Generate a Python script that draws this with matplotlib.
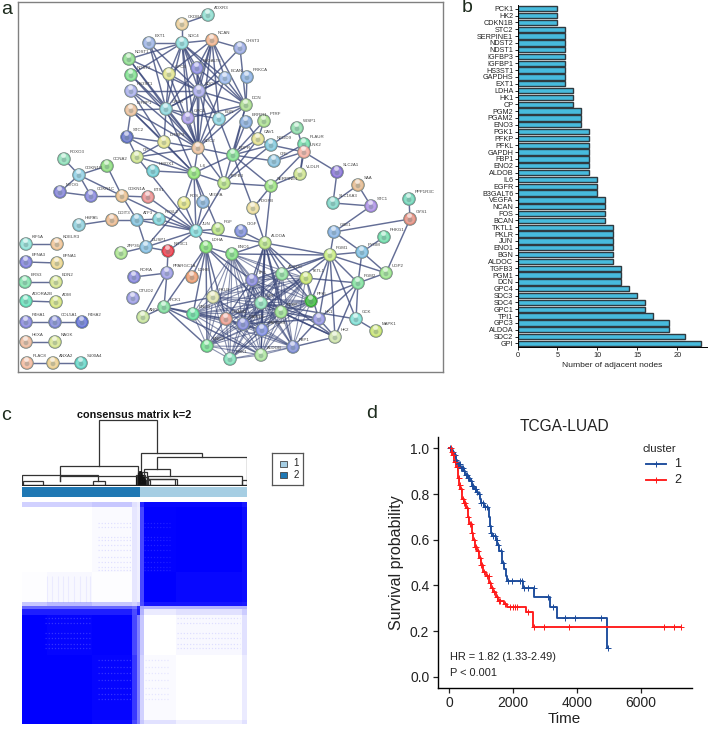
import itertools
import numpy as np
import matplotlib
matplotlib.use('Agg')
import matplotlib.pyplot as plt
from matplotlib.colors import LinearSegmentedColormap
from matplotlib.patches import Rectangle

plt.rcParams['font.family'] = ['Liberation Sans', 'DejaVu Sans']

W, H = 709, 732

# panel a: string network, positions
node_names = ['ADXR3', 'CKDB4', 'EXT1', 'SDC4', 'NCAN', 'CHST3', 'NDST1', 'NDST2', 'HS3ST1', 'GPC4',
              'B3GALT6', 'BCAN', 'PRKCA', 'SDC3', 'IGFBP1', 'GPC3', 'GPC1', 'BGN', 'DCN', 'STC2',
              'IGFBP3', 'SDC2', 'CP', 'HMOX1', 'IL6', 'EGFR', 'TGFB3', 'ERRFI1', 'PTRF', 'CAV1',
              'WISP1', 'NEDD9', 'PLAUR', 'UNK2', 'CRL', 'VLDLR', 'SLC2A1', 'SAA', 'SERPINE1', 'SLC16A3',
              'STC1', 'PPP1R3C', 'GYS1', 'FOXO3', 'CDKN1B', 'CCNA2', 'MYOG', 'CDKN1C', 'CDKN1A', 'ETS1',
              'FOS', 'VEGFA', 'PGF', 'HSPA5', 'DDIT3', 'ATF3', 'FOSL2', 'JUN', 'DUSP1', 'NR3C1',
              'ZFP36', 'LDHA', 'PPARGC1A', 'RORA', 'LDHB', 'OTUD2', 'PCK1', 'ANG', 'PKLR', 'ENO3',
              'PGAM2', 'ENO2', 'PGK1', 'PDGFB', 'CIGF', 'ALDOA', 'ENO1', 'GBE1', 'PGM1', 'PYGM',
              'PHKG1', 'UGP2', 'PGM2', 'ALDOC', 'TKTL1', 'TPI1', 'PFKL', 'GPI', 'PFKP', 'HK1',
              'GCK', 'MAPK1', 'HK2', 'FBP1', 'ALDOB', 'GAPDHS', 'GAPDH',
              'KIF5A', 'KDELR3', 'EFNA3', 'EFNA1', 'BRS3', 'EDN2', 'ADORA2B', 'ADM', 'P4HA1', 'COL5A1',
              'P4HA2', 'HEXA', 'NAGK', 'PLAC8', 'ANXA2', 'S100A4']
node_x = [208, 182, 149, 182, 212, 240, 129, 131, 131, 169,
          197, 225, 247, 199, 131, 166, 188, 219, 246, 127,
          164, 198, 137, 153, 194, 233, 224, 246, 264, 258,
          297, 271, 304, 304, 274, 300, 337, 358, 271, 333,
          371, 409, 410, 64, 79, 107, 60, 91, 122, 148,
          184, 203, 218, 79, 112, 137, 159, 196, 146, 168,
          121, 206, 167, 134, 192, 133, 164, 143, 213, 193,
          226, 207, 230, 253, 241, 265, 232, 334, 330, 362,
          384, 386, 358, 282, 306, 252, 311, 261, 281, 319,
          356, 376, 335, 293, 261, 262, 243,
          26, 57, 26, 57, 25, 56, 26, 56, 26, 55,
          82, 26, 55, 27, 53, 81]
node_y = [15, 24, 43, 43, 40, 48, 59, 75, 91, 74,
          68, 78, 77, 91, 110, 109, 118, 119, 105, 137,
          142, 148, 157, 171, 173, 155, 183, 122, 121, 139,
          128, 145, 144, 152, 161, 174, 172, 185, 186, 203,
          206, 199, 219, 159, 175, 166, 192, 196, 196, 197,
          203, 202, 229, 225, 220, 220, 219, 231, 247, 251,
          253, 247, 273, 277, 277, 298, 307, 317, 297, 314,
          319, 346, 359, 208, 231, 243, 254, 232, 255, 252,
          237, 273, 283, 274, 278, 280, 301, 303, 312, 319,
          319, 331, 337, 347, 355, 330, 324,
          244, 244, 262, 263, 282, 282, 301, 302, 322, 322,
          322, 342, 342, 363, 363, 363]
node_colors = ['#7fd8c8', '#e8c88e', '#8fa8e0', '#7fd8d8', '#eea97f', '#8fa0e0', '#7fd87f', '#6fdc7f', '#9fa5e8', '#dfe07f',
               '#7f7fdd', '#8fb0e8', '#7fa8e0', '#9f9fe8', '#e8b88f', '#7fd0d8', '#a08fe8', '#7fd0e0', '#a0d880', '#5060c0',
               '#e0e080', '#e8b890', '#c8e080', '#60c8d0', '#80e060', '#70dc80', '#b0e070', '#78a0d8', '#a0dc80', '#e0dc80',
               '#80d8a0', '#70c0d8', '#60dca0', '#f0a090', '#78b8d8', '#c8e080', '#7860d0', '#e0b080', '#90e070', '#70d0c0',
               '#a080e0', '#60d0b0', '#e08070', '#80dcb0', '#80c8e0', '#80d870', '#7070d0', '#7878d8', '#e8b880', '#e88080',
               '#e0e070', '#78a8d8', '#b0e070', '#80c8d8', '#e8b080', '#70b8d8', '#70d0d8', '#70d8d8', '#78b8e0', '#e82030',
               '#a0e080', '#70dc60', '#9090e0', '#7878d8', '#e89060', '#9090e0', '#70d890', '#c0e090', '#dce0a0', '#50dc90',
               '#e89080', '#60dc80', '#70dcb0', '#e8d890', '#7080d8', '#b0e070', '#70dc70', '#78a8e0', '#c0e870', '#70b8e0',
               '#60d8a0', '#90e080', '#70dc90', '#80dc90', '#c0e060', '#7878d8', '#20b020', '#80dcb0', '#90dc80', '#8888e0',
               '#70dcd0', '#c0e060', '#c8e0a0', '#7080d0', '#a0e090', '#7080e0', '#7078d0',
               '#80dcd0', '#eebc88', '#7070d8', '#e8d080', '#70dca0', '#d0e080', '#50dcb0', '#d0e070', '#7878d8', '#7078d0',
               '#5060d0', '#e8b090', '#d0e080', '#f0b090', '#e8c880', '#50d0c0']

link_hubs = {
    'SDC2': ['EXT1', 'NDST1', 'NDST2', 'HS3ST1', 'GPC4', 'GPC3', 'GPC1', 'BGN', 'B3GALT6', 'IGFBP1', 'IGFBP3',
             'CP', 'IL6', 'EGFR', 'SDC3', 'BCAN', 'NCAN', 'SDC4', 'DCN', 'TGFB3'],
    'SDC4': ['CKDB4', 'EXT1', 'NDST1', 'NDST2', 'GPC4', 'B3GALT6', 'BGN', 'GPC3', 'GPC1', 'NCAN', 'BCAN', 'DCN', 'SDC3'],
    'GPC3': ['EXT1', 'NDST1', 'NDST2', 'HS3ST1', 'GPC4', 'B3GALT6', 'BGN', 'GPC1', 'SDC3', 'BCAN', 'IGFBP1', 'IGFBP3', 'IL6'],
    'SDC3': ['EXT1', 'NDST1', 'HS3ST1', 'GPC4', 'B3GALT6', 'GPC1', 'NCAN', 'BCAN', 'DCN', 'CHST3', 'BGN', 'TGFB3'],
    'NCAN': ['CHST3', 'B3GALT6', 'GPC1', 'DCN', 'BGN', 'BCAN', 'GPC4'],
    'DCN': ['CHST3', 'PRKCA', 'BCAN', 'GPC1', 'BGN', 'EGFR', 'TGFB3', 'B3GALT6'],
    'EGFR': ['ERRFI1', 'CAV1', 'PTRF', 'NEDD9', 'CRL', 'IL6', 'BGN', 'PDGFB', 'SERPINE1'],
    'IL6': ['HMOX1', 'CP', 'JUN', 'TGFB3', 'FOS', 'VEGFA', 'STC2', 'IGFBP1', 'IGFBP3', 'PGF'],
    'IGFBP3': ['STC2', 'CP', 'IGFBP1', 'HS3ST1'],
    'STC2': ['CP', 'IGFBP1'],
    'JUN': ['FOS', 'FOSL2', 'ATF3', 'VEGFA', 'CDKN1A', 'TGFB3', 'ETS1', 'DUSP1', 'NR3C1', 'LDHA', 'PGF', 'CP', 'ALDOA'],
    'ALDOA': ['PDGFB', 'CIGF', 'ENO1', 'PGM1', 'ALDOC', 'TPI1', 'GPI', 'PFKP', 'ALDOB', 'GAPDHS', 'GAPDH', 'TKTL1', 'PFKL', 'FBP1'],
    'PGM1': ['GBE1', 'PYGM', 'PGM2', 'UGP2', 'HK1', 'GCK', 'HK2', 'ALDOC', 'TPI1', 'GAPDH', 'ENO1', 'PFKL'],
    'PGM2': ['PYGM', 'UGP2', 'HK1', 'GCK', 'HK2', 'PFKL', 'TKTL1'],
    'GBE1': ['GYS1', 'PYGM'],
    'PYGM': ['PHKG1', 'UGP2'],
    'GYS1': ['UGP2', 'PPP1R3C'],
    'HK1': ['TKTL1', 'GPI', 'HK2', 'GAPDH', 'FBP1', 'PFKP'],
    'HK2': ['GPI', 'PFKP', 'FBP1', 'TPI1'],
    'GCK': ['MAPK1', 'GPI'],
    'CDKN1B': ['FOXO3', 'CCNA2', 'MYOG', 'CDKN1C', 'CDKN1A'],
    'CDKN1A': ['CCNA2', 'CDKN1C', 'ATF3', 'ETS1'],
    'CDKN1C': ['MYOG'],
    'DDIT3': ['HSPA5', 'ATF3'],
    'ATF3': ['FOSL2'],
    'PPARGC1A': ['NR3C1', 'RORA', 'PCK1', 'ANG'],
    'DUSP1': ['ZFP36', 'NR3C1', 'FOS', 'ATF3'],
    'LDHA': ['ENO1', 'ENO3', 'PGAM2', 'ENO2', 'PKLR', 'PCK1', 'LDHB', 'GPI', 'TPI1'],
    'PCK1': ['ENO2', 'ENO3', 'PKLR', 'ALDOB', 'PGAM2', 'ANG'],
    'UNK2': ['PLAUR', 'WISP1', 'CRL', 'VLDLR', 'SLC2A1', 'NEDD9', 'SERPINE1'],
    'NEDD9': ['WISP1', 'CAV1', 'TGFB3'],
    'PLAUR': ['VLDLR', 'CRL'],
    'CAV1': ['PTRF', 'TGFB3', 'ERRFI1'],
    'SERPINE1': ['ALDOA', 'TGFB3', 'PDGFB', 'VLDLR'],
    'SLC16A3': ['SLC2A1', 'STC1', 'SAA'],
    'STC1': ['GBE1', 'SAA'],
    'ADXR3': ['CKDB4'],
    'KIF5A': ['KDELR3'], 'EFNA3': ['EFNA1'], 'BRS3': ['EDN2'], 'ADORA2B': ['ADM'],
    'COL5A1': ['P4HA1', 'P4HA2'], 'HEXA': ['NAGK'], 'ANXA2': ['PLAC8', 'S100A4'],
}
glyco_group = ['TPI1', 'GPI', 'GAPDH', 'GAPDHS', 'ALDOB', 'FBP1', 'PFKP', 'PFKL', 'ALDOC', 'TKTL1', 'PKLR',
               'PGK1', 'ENO1', 'ENO2', 'ENO3', 'PGAM2']

# panel b
bar_names = ['PCK1', 'HK2', 'CDKN1B', 'STC2', 'SERPINE1', 'NDST2', 'NDST1', 'IGFBP3', 'IGFBP1', 'HS3ST1',
             'GAPDHS', 'EXT1', 'LDHA', 'HK1', 'CP', 'PGM2', 'PGAM2', 'ENO3', 'PGK1', 'PFKP',
             'PFKL', 'GAPDH', 'FBP1', 'ENO2', 'ALDOB', 'IL6', 'EGFR', 'B3GALT6', 'VEGFA', 'NCAN',
             'FOS', 'BCAN', 'TKTL1', 'PKLR', 'JUN', 'ENO1', 'BGN', 'ALDOC', 'TGFB3', 'PGM1',
             'DCN', 'GPC4', 'SDC3', 'SDC4', 'GPC1', 'TPI1', 'GPC3', 'ALDOA', 'SDC2', 'GPI']
bar_values = [5, 5, 5, 6, 6, 6, 6, 6, 6, 6,
              6, 6, 7, 7, 7, 8, 8, 8, 9, 9,
              9, 9, 9, 9, 9, 10, 10, 10, 11, 11,
              11, 11, 12, 12, 12, 12, 12, 12, 13, 13,
              13, 14, 15, 16, 16, 17, 19, 19, 21, 23]

# panel c: consensus blocks, cells of uneven width
cell_x = [67, 140, 275, 395, 412, 420, 432, 528, 725, 740]
cell_y = [35, 50, 245, 335, 348, 358, 375, 495, 690, 703]
cell_values = [[.18, .18, .22, .12, .08, .85, .97, .97, .90],
               [.00, .00, .02, .10, .07, .72, .99, 1.0, .95],
               [.01, .03, .01, .10, .07, .72, 1.0, .97, .95],
               [.22, .28, .22, .18, .25, .70, .92, .92, .90],
               [.60, .60, .60, .55, .85, .35, .30, .30, .30],
               [.88, .88, .88, .70, .90, .30, .08, .12, .20],
               [1.0, .98, .99, .72, .50, .22, .00, .03, .12],
               [1.0, 1.0, .98, .78, .50, .18, .02, .00, .08],
               [1.0, 1.0, .96, .72, .50, .22, .12, .06, .12]]
lattice_rows = [100, 110, 140, 150, 165, 180, 200, 215, 232, 240]
lattice_rows_low = [385, 400, 430, 445, 462, 475, 510, 530, 550, 570, 595, 612, 628]
lattice_cols = [140, 155, 175, 190, 205, 222, 240, 258, 270]

# merges of the dendrogram: left x, right x, height, left foot, right foot
merge_left = [297, 181, 67, 181, 422, 472, 432, 440, 440, 70, 280, 415, 420, 425, 430, 725, 445, 408, 416, 424]
merge_right = [470, 415, 295, 415, 605, 740, 510, 725, 525, 130, 315, 440, 435, 445, 450, 740, 530, 420, 432, 436]
merge_top = [60, 197, 224, 228, 158, 172, 208, 228, 236, 243, 243, 215, 225, 232, 240, 240, 238, 225, 235, 245]
merge_foot_l = [197, 243, 254, 243, 240, 208, 235, 240, 255, 255, 255, 255, 255, 255, 255, 255, 255, 255, 255, 255]
merge_foot_r = [158, 228, 243, 255, 172, 240, 228, 255, 255, 255, 255, 255, 255, 255, 255, 255, 255, 255, 255, 255]
clump_x = [412, 416, 419, 422, 425, 428, 431, 434, 437]
clump_top = [230, 218, 214, 212, 220, 226, 232, 238, 244]
cluster_split = 420

# panel d: survival curves
time_1 = [0, 100, 150, 200, 250, 350, 450, 500, 580, 650, 700, 760, 850, 900, 950, 1000, 1100, 1200, 1230, 1260,
          1300, 1340, 1450, 1500, 1560, 1650, 1720, 1780, 1820, 2320, 2660, 3150, 3360, 4930, 4980]
surv_1 = [1.0, .985, .97, .95, .93, .915, .90, .885, .87, .855, .835, .82, .81, .80, .78, .76, .745, .74, .70, .66,
          .63, .615, .60, .575, .55, .50, .47, .44, .418, .388, .35, .305, .255, .125, .125]
censor_1 = [30, 120, 170, 220, 270, 300, 330, 380, 410, 440, 470, 520, 550, 600, 620, 670, 720, 740, 800, 830,
            880, 920, 1000, 1050, 1130, 1180, 1280, 1320, 1380, 1420, 1480, 1530, 1620, 1690, 1850, 1950, 2210, 2270,
            2350, 2480, 2640, 3100, 3250, 3630, 3940, 4760, 4980]
time_2 = [0, 60, 100, 150, 200, 270, 300, 350, 400, 450, 530, 580, 630, 700, 750, 800, 870, 920, 980, 1050,
          1150, 1250, 1300, 1370, 1450, 1530, 1700, 1800, 2400, 2610, 7250]
surv_2 = [1.0, .985, .97, .94, .92, .87, .84, .82, .78, .76, .74, .70, .67, .63, .60, .57, .55, .52, .49, .46,
          .44, .41, .39, .37, .35, .33, .32, .307, .285, .219, .219]
censor_2 = [40, 80, 130, 180, 230, 290, 320, 370, 420, 470, 500, 550, 600, 650, 680, 720, 770, 820, 850, 900,
            950, 1000, 1020, 1100, 1180, 1230, 1280, 1340, 1400, 1480, 1550, 1600, 1760, 1900, 2000, 2060, 2120,
            2480, 2650, 2970, 3750, 6730, 7050, 7250]
stats_lines = ['HR = 1.82 (1.33-2.49)', 'P < 0.001']


def px_axes(fig, left, top, right, bottom):
    return fig.add_axes([left / W, 1 - bottom / H, (right - left) / W, (bottom - top) / H])


def step_value(times, values, t):
    idx = np.searchsorted(times, t, side='right') - 1
    return np.array(values)[idx]


def draw_network(ax):
    ax.set_xlim(18, 443)
    ax.set_ylim(372, 2)
    ax.set_xticks([])
    ax.set_yticks([])
    for side in ax.spines.values():
        side.set_color('#808080')
        side.set_linewidth(1.0)

    pos = {n: (x, y) for n, x, y in zip(node_names, node_x, node_y)}
    for hub, others in link_hubs.items():
        for other in others:
            ax.plot([pos[hub][0], pos[other][0]], [pos[hub][1], pos[other][1]],
                    color='#3d4a7c', lw=1.05, alpha=0.8, zorder=1, solid_capstyle='round')
    for a, b in itertools.combinations(glyco_group, 2):
        ax.plot([pos[a][0], pos[b][0]], [pos[a][1], pos[b][1]], color='#3d4a7c', lw=0.8, alpha=0.6, zorder=1)

    x = np.array(node_x, dtype=float)
    y = np.array(node_y, dtype=float)
    ax.scatter(x, y, s=82, c=node_colors, edgecolors='#7d8a88', linewidths=0.7, zorder=2)
    ax.scatter(x, y, s=50, c='white', alpha=0.28, edgecolors='none', zorder=3)
    ax.scatter(x, y + 0.8, s=12, c='#557070', alpha=0.3, edgecolors='none', zorder=4)
    ax.scatter(x - 0.5, y - 3.5, s=12, c='white', alpha=0.6, edgecolors='none', zorder=5)
    for name, nx, ny in zip(node_names, node_x, node_y):
        ax.text(nx + 6, ny - 7, name, fontsize=3.2, color='#444444', va='center', ha='left', zorder=6)


def draw_bars(ax):
    ypos = np.arange(len(bar_names))
    ax.barh(ypos, bar_values, height=0.78, color='#47BBDD', edgecolor='#2f3a40', linewidth=1.0)
    ax.set_xlim(0, 23.7)
    ax.set_ylim(49.49, -0.54)
    ax.set_yticks(ypos)
    ax.set_yticklabels(bar_names, fontsize=5.2, color='#222222')
    ax.set_xticks([0, 5, 10, 15, 20])
    ax.tick_params(axis='x', labelsize=5.3, length=2, width=0.6, pad=1.5, labelcolor='#222222')
    ax.tick_params(axis='y', length=2, width=0.6, pad=1)
    ax.set_xlabel('Number of adjacent nodes', fontsize=6.1, labelpad=2.5, color='#222222')
    ax.spines['top'].set_visible(False)
    ax.spines['right'].set_visible(False)
    ax.spines['left'].set_linewidth(0.7)
    ax.spines['bottom'].set_linewidth(0.7)


def draw_consensus(fig):
    blues = LinearSegmentedColormap.from_list('consensus', ['#FFFFFF', '#0000FF'])
    ax = px_axes(fig, 22.3, 501.7, 246.7, 724.3)
    ax.pcolormesh(cell_x, cell_y, np.array(cell_values), cmap=blues, vmin=0, vmax=1, edgecolors='none')
    dots = (0, (1, 1.5))
    ax.hlines(lattice_rows, 295, 395, color='#0000FF', lw=0.9, alpha=0.1, linestyles=dots)
    ax.hlines(lattice_rows, 432, 510, color='white', lw=0.9, alpha=0.12, linestyles=dots)
    ax.hlines(lattice_rows_low[:6], 135, 270, color='white', lw=0.9, alpha=0.18, linestyles=dots)
    ax.hlines(lattice_rows_low[:6], 530, 720, color='#0000FF', lw=0.9, alpha=0.1, linestyles=dots)
    ax.hlines(lattice_rows_low[6:], 295, 395, color='white', lw=0.9, alpha=0.18, linestyles=dots)
    ax.hlines(lattice_rows_low[6:], 435, 510, color='#0000FF', lw=0.9, alpha=0.08, linestyles=dots)
    ax.vlines(lattice_cols, 258, 335, color='#0000FF', lw=0.8, alpha=0.05)
    ax.set_xlim(67, 740)
    ax.set_ylim(703, 35)
    ax.axis('off')

    band = px_axes(fig, 22.3, 487.3, 246.7, 496.7)
    band.add_patch(Rectangle((67, 0), cluster_split - 67, 1, color='#1F78B4', lw=0))
    band.add_patch(Rectangle((cluster_split, 0), 740 - cluster_split, 1, color='#A6CEE3', lw=0))
    band.set_xlim(67, 740)
    band.set_ylim(0, 1)
    band.axis('off')

    tree = px_axes(fig, 22.3, 418, 246.7, 486)
    for x0, x1, top, foot0, foot1 in zip(merge_left, merge_right, merge_top, merge_foot_l, merge_foot_r):
        tree.plot([x0, x0, x1, x1], [foot0, top, top, foot1], color='#333333', lw=0.9, solid_joinstyle='miter')
    tree.vlines(clump_x, clump_top, 256, color='#111111', lw=1.1)
    tree.plot([67, 740], [256, 256], color='#222222', lw=1.0)
    tree.set_xlim(67, 740)
    tree.set_ylim(258, 55)
    tree.axis('off')

    fig.text(134 / W, 1 - 415 / H, 'consensus matrix k=2', fontsize=7.8, fontweight='bold',
             ha='center', va='center', color='#111111')

    # small legend box
    box = px_axes(fig, 272, 453, 303, 485)
    box.set_xlim(272, 303)
    box.set_ylim(485, 453)
    box.set_xticks([])
    box.set_yticks([])
    for side in box.spines.values():
        side.set_color('#555555')
        side.set_linewidth(0.9)
    for label, yy, col in zip(['1', '2'], [463.5, 474.5], ['#A6CEE3', '#1F78B4']):
        box.add_patch(Rectangle((279.5, yy - 3), 7, 6, facecolor=col, edgecolor='#444444', lw=0.6))
        box.text(296, yy, label, fontsize=7, ha='center', va='center', color='#222222')


def draw_survival(ax):
    ax.step(time_1, surv_1, where='post', color='#1B4B9B', lw=1.35)
    ax.step(time_2, surv_2, where='post', color='#FF1A1A', lw=1.35)
    ax.plot(censor_1, step_value(time_1, surv_1, censor_1), '+', color='#1B4B9B', ms=4.5, mew=0.7)
    ax.plot(censor_2, step_value(time_2, surv_2, censor_2), '+', color='#FF1A1A', ms=4.5, mew=0.7)
    ax.set_xlim(-363, 7594)
    ax.set_ylim(-0.048, 1.051)
    ax.set_xticks([0, 2000, 4000, 6000])
    ax.set_yticks([0, 0.2, 0.4, 0.6, 0.8, 1.0])
    ax.set_yticklabels(['0.0', '0.2', '0.4', '0.6', '0.8', '1.0'])
    ax.tick_params(labelsize=10, length=3.5, width=0.9, colors='#222222', pad=2.5)
    ax.set_xlabel('Time', fontsize=11, labelpad=1.5, color='#222222')
    ax.set_ylabel('Survival probability', fontsize=11.5, labelpad=4, color='#222222')
    ax.set_title('TCGA-LUAD', fontsize=11.2, color='#222222', pad=4)
    ax.spines['top'].set_visible(False)
    ax.spines['right'].set_visible(False)
    ax.spines['left'].set_linewidth(1.0)
    ax.spines['bottom'].set_linewidth(1.0)
    ax.text(20, 0.085, stats_lines[0], fontsize=7.9, color='#222222', va='center')
    ax.text(20, 0.018, stats_lines[1], fontsize=7.9, color='#222222', va='center')
    # legend, laid out by hand to sit where the original does
    ax.text(6050, 0.998, 'cluster', fontsize=8.2, color='#222222', va='center')
    for label, yy, col in zip(['1', '2'], [0.93, 0.86], ['#1B4B9B', '#FF1A1A']):
        ax.plot([6150, 6800], [yy, yy], color=col, lw=1.35)
        ax.plot([6475], [yy], '+', color=col, ms=4.5, mew=0.7)
        ax.text(7160, yy, label, fontsize=9, color='#222222', va='center', ha='center')


if __name__ == "__main__":
    fig = plt.figure(figsize=(W / 100, H / 100), dpi=100)

    draw_network(px_axes(fig, 18, 2, 443, 372))
    draw_bars(px_axes(fig, 517.5, 5, 707, 346.7))
    draw_consensus(fig)
    draw_survival(px_axes(fig, 437.7, 436.7, 691.7, 687.7))

    for letter, x, y in [('a', 7, 9), ('b', 467, 8), ('c', 6, 415), ('d', 372, 414)]:
        fig.text(x / W, 1 - y / H, letter, fontsize=14, color='#1d2b1d', ha='center', va='center')

    fig.savefig('out.png', dpi=100)
